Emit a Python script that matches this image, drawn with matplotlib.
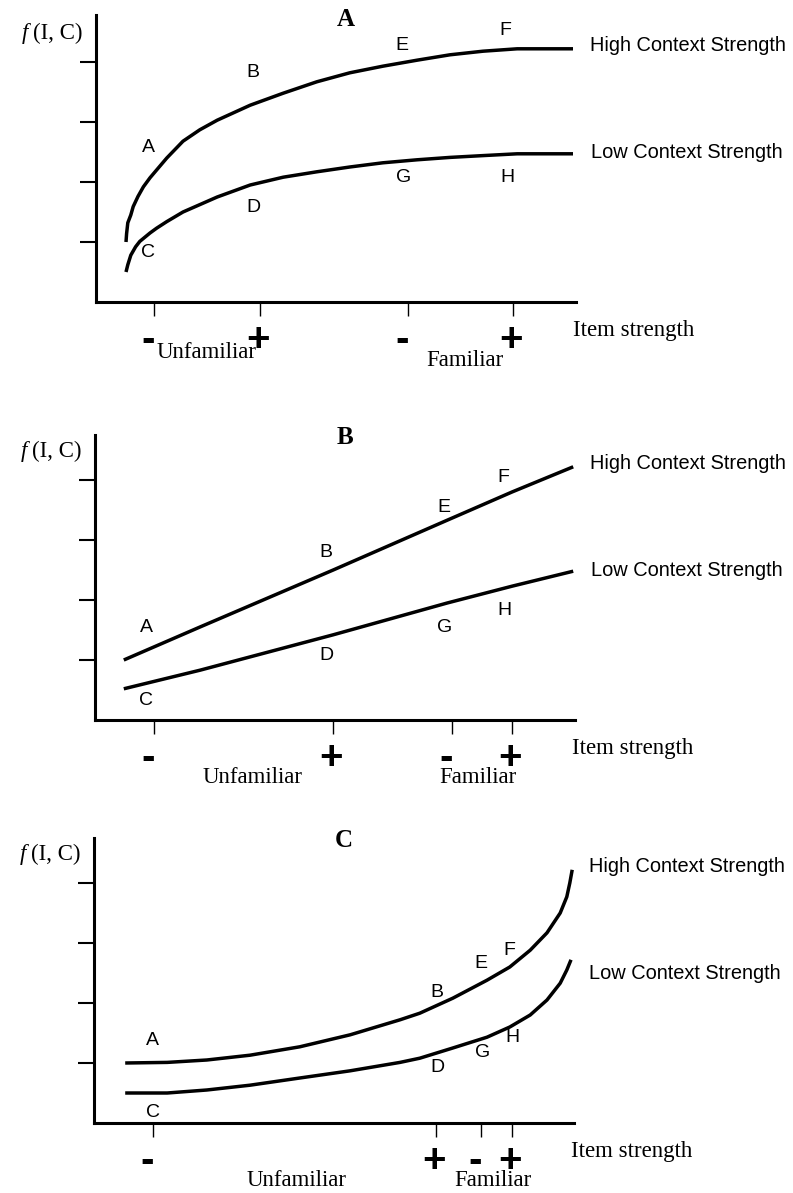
import matplotlib
matplotlib.use("Agg")
import matplotlib.pyplot as plt

# signs are drawn with mathtext (bold sans)
plt.rcParams['mathtext.fontset'] = 'custom'
plt.rcParams['mathtext.rm'] = 'Liberation Sans:bold'
plt.rcParams['mathtext.bf'] = 'Liberation Sans:bold'

SERIF = 'Liberation Serif'
SANS = 'Liberation Sans'

# ---------------- data ----------------
panel_titles = ['A', 'B', 'C']
series_names = ['High Context Strength', 'Low Context Strength']
tick_signs = ['-', '+', '-', '+']
group_names = ['Unfamiliar', 'Familiar']
point_letters = ['A', 'B', 'C', 'D', 'E', 'F', 'G', 'H']

# Panel A (concave)
a_high_x = [0.5, 0.51, 0.53, 0.58, 0.62, 0.7, 0.79, 0.9, 1.01, 1.18, 1.45, 1.73, 2.02, 2.57, 3.12, 3.68, 4.23, 4.78, 5.35, 5.9, 6.45, 7.02, 7.95]
a_high_y = [1.0, 1.14, 1.32, 1.45, 1.59, 1.76, 1.92, 2.07, 2.2, 2.4, 2.68, 2.87, 3.03, 3.28, 3.48, 3.67, 3.82, 3.93, 4.03, 4.12, 4.18, 4.22, 4.22]
a_low_x = [0.5, 0.53, 0.58, 0.66, 0.73, 0.9, 1.01, 1.18, 1.45, 2.02, 2.57, 3.12, 3.68, 4.23, 4.78, 5.35, 5.9, 6.45, 7.02, 7.95]
a_low_y = [0.5, 0.62, 0.78, 0.92, 1.01, 1.15, 1.23, 1.34, 1.5, 1.75, 1.95, 2.08, 2.17, 2.25, 2.32, 2.37, 2.41, 2.44, 2.47, 2.47]
a_ticks = [0.97, 2.73, 5.2, 6.95]
a_letter_x = [0.87, 2.62, 0.87, 2.62, 5.1, 6.83, 5.12, 6.85]
a_letter_y = [2.57, 3.82, 0.82, 1.57, 4.28, 4.53, 2.07, 2.07]
a_group_x = [1.85, 6.15]
a_group_y = [-0.84, -0.97]

# Panel B (linear)
b_high_x = [0.48, 1.75, 3.97, 5.87, 6.95, 7.97]
b_high_y = [1.0, 1.55, 2.5, 3.33, 3.8, 4.22]
b_low_x = [0.48, 1.75, 3.97, 5.87, 6.95, 7.97]
b_low_y = [0.52, 0.83, 1.42, 1.95, 2.23, 2.48]
b_ticks = [0.98, 3.97, 5.95, 6.95]
b_letter_x = [0.85, 3.85, 0.85, 3.85, 5.82, 6.8, 5.83, 6.82]
b_letter_y = [1.55, 2.8, 0.33, 1.08, 3.55, 4.05, 1.55, 1.82]
b_group_x = [2.62, 6.38]
b_group_y = [-0.96, -0.96]

# Panel C (convex)
c_high_x = [0.52, 1.22, 1.88, 2.6, 3.43, 4.27, 5.1, 5.43, 5.98, 6.55, 6.93, 7.27, 7.55, 7.77, 7.88, 7.93, 7.97]
c_high_y = [1.0, 1.01, 1.05, 1.13, 1.27, 1.47, 1.72, 1.83, 2.08, 2.38, 2.6, 2.88, 3.17, 3.5, 3.77, 4.0, 4.22]
c_low_x = [0.52, 1.22, 1.88, 2.6, 3.43, 4.27, 5.1, 5.43, 5.98, 6.55, 6.93, 7.27, 7.55, 7.77, 7.88, 7.95]
c_low_y = [0.5, 0.5, 0.55, 0.63, 0.75, 0.87, 1.01, 1.08, 1.25, 1.43, 1.6, 1.8, 2.05, 2.33, 2.55, 2.72]
c_ticks = [0.98, 5.7, 6.45, 6.97]
c_letter_x = [0.98, 5.72, 0.98, 5.72, 6.45, 6.93, 6.47, 6.97]
c_letter_y = [1.38, 2.17, 0.17, 0.93, 2.65, 2.88, 1.17, 1.42]
c_group_x = [3.38, 6.65]
c_group_y = [-0.96, -0.96]

panels = [
    dict(hx=a_high_x, hy=a_high_y, lx=a_low_x, ly=a_low_y, ticks=a_ticks,
         lxs=a_letter_x, lys=a_letter_y, gx=a_group_x, gy=a_group_y),
    dict(hx=b_high_x, hy=b_high_y, lx=b_low_x, ly=b_low_y, ticks=b_ticks,
         lxs=b_letter_x, lys=b_letter_y, gx=b_group_x, gy=b_group_y),
    dict(hx=c_high_x, hy=c_high_y, lx=c_low_x, ly=c_low_y, ticks=c_ticks,
         lxs=c_letter_x, lys=c_letter_y, gx=c_group_x, gy=c_group_y),
]

# ---------------- layout ----------------
W, H = 793, 1193
fig = plt.figure(figsize=(W / 100, H / 100), dpi=100)
renderer = fig.canvas.get_renderer()
# (left px, x-axis px from top, top px from top)
boxes = [(96, 302, 15), (95, 720, 435), (94, 1123, 838)]
XMAX = 8.0

for title, p, (lpx, axpx, toppx) in zip(panel_titles, panels, boxes):
    hpx = axpx - toppx
    ax = fig.add_axes([lpx / W, (H - axpx) / H, 480 / W, hpx / H])
    ax.set_xlim(0, XMAX)
    ax.set_ylim(0, hpx / 60.0)
    for s in ['top', 'right']:
        ax.spines[s].set_visible(False)
    for s in ['left', 'bottom']:
        ax.spines[s].set_linewidth(2.2)
        ax.spines[s].set_capstyle('projecting')

    ax.set_yticks([1, 2, 3, 4])
    ax.set_yticklabels([])
    ax.tick_params(axis='y', direction='out', length=11.5, width=1.5, color='black')
    ax.set_xticks(p['ticks'])
    ax.set_xticklabels([])
    ax.tick_params(axis='x', direction='out', length=10, width=1.0, color='black')

    ax.plot(p['hx'], p['hy'], color='black', lw=2.5, solid_capstyle='butt',
            solid_joinstyle='round', clip_on=False)
    ax.plot(p['lx'], p['ly'], color='black', lw=2.5, solid_capstyle='butt',
            solid_joinstyle='round', clip_on=False)

    # series names at the end of each curve
    ax.text(p['hx'][-1] + 0.28, 4.28, series_names[0], family=SANS, fontsize=14.4,
            ha='left', va='center', clip_on=False)
    ax.text(p['lx'][-1] + 0.3, 2.49, series_names[1], family=SANS, fontsize=14.4,
            ha='left', va='center', clip_on=False)

    # point letters
    for L, x, y in zip(point_letters, p['lxs'], p['lys']):
        ax.text(x, y, L, family=SANS, fontsize=14, ha='center', va='center', clip_on=False)

    # tick signs (bold)
    for sgn, x in zip(tick_signs, p['ticks']):
        if sgn == '-':
            s, dx = r'$\text{-}$', -0.1
        else:
            s, dx = r'$+$', -0.03
        ax.text(x + dx, -0.6, s, fontsize=29, ha='center', va='center', clip_on=False)

    # group labels
    for g, x, y in zip(group_names, p['gx'], p['gy']):
        ax.text(x, y, g, family=SERIF, fontsize=16.5, ha='center', va='center', clip_on=False)

    ax.text(7.95, -0.48, 'Item strength', family=SERIF, fontsize=16.5,
            ha='left', va='center', clip_on=False)

    # y label "f (I, C)" : italic f + upright (I, C)
    t = ax.text(-0.23, 4.47, '(I, C)', family=SERIF, fontsize=16.5,
                ha='right', va='center', clip_on=False)
    bb = t.get_window_extent(renderer=renderer)
    inv = ax.transData.inverted()
    left_x = inv.transform((bb.x0, bb.y0))[0]
    ax.text(left_x - 0.08, 4.47, 'f', family=SERIF, style='italic', fontsize=16.5,
            ha='right', va='center', clip_on=False)

    ax.text(4.17, 4.71, title, family=SERIF, fontsize=18, fontweight='bold',
            ha='center', va='center', clip_on=False)

fig.savefig('out.png', dpi=100)
